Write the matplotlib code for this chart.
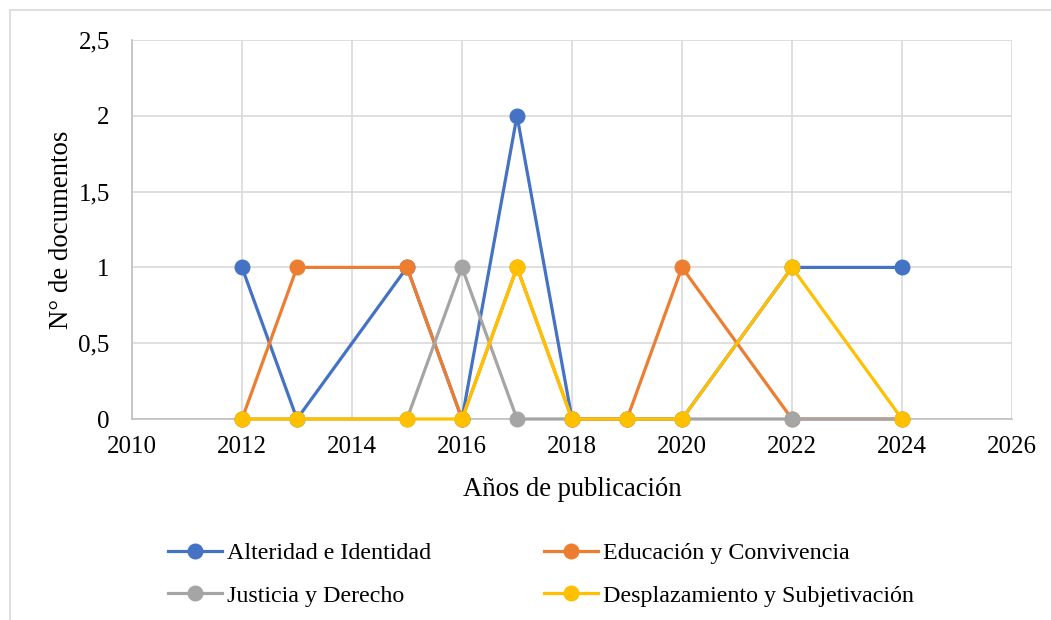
import matplotlib.pyplot as plt
from matplotlib.patches import Rectangle
from matplotlib.ticker import FuncFormatter

plt.rcParams['font.family'] = ['Liberation Serif', 'DejaVu Serif']

years = [2012, 2013, 2015, 2016, 2017, 2018, 2019, 2020, 2022, 2024]
alteridad = [1, 0, 1, 0, 2, 0, 0, 0, 1, 1]
educacion = [0, 1, 1, 0, 1, 0, 0, 1, 0, 0]
justicia = [0, 0, 0, 1, 0, 0, 0, 0, 0, 0]
desplazamiento = [0, 0, 0, 0, 1, 0, 0, 0, 1, 0]

series = [
    ("Alteridad e Identidad", alteridad, "#4472C4"),
    ("Educación y Convivencia", educacion, "#ED7D31"),
    ("Justicia y Derecho", justicia, "#A5A5A5"),
    ("Desplazamiento y Subjetivación", desplazamiento, "#FFC000"),
]

fig = plt.figure(figsize=(10.51, 6.2), dpi=100)
fig.patches.append(Rectangle((10 / 1051, -0.1), 1.2, 1.1 - 10 / 620,
                             transform=fig.transFigure, fill=False,
                             edgecolor="#D9D9D9", linewidth=1.2))

ax = fig.add_axes([132 / 1051, 1 - 419 / 620, 880 / 1051, 379 / 620])
handles = []
for name, vals, color in series:
    h, = ax.plot(years, vals, color=color, linewidth=2.3, marker='o',
                 markersize=10.5, label=name, clip_on=False, zorder=3)
    handles.append(h)

ax.set_xlim(2010, 2026)
ax.set_ylim(0, 2.5)
ax.set_xticks(range(2010, 2027, 2))
ax.set_yticks([0, 0.5, 1, 1.5, 2, 2.5])
ax.yaxis.set_major_formatter(FuncFormatter(lambda v, p: f"{v:g}".replace('.', ',')))
ax.grid(True, color="#D9D9D9", linewidth=1.2, zorder=0)
for s in ["top", "right"]:
    ax.spines[s].set_visible(False)
for s in ["left", "bottom"]:
    ax.spines[s].set_color("#BFBFBF")
    ax.spines[s].set_linewidth(1.2)
ax.tick_params(length=0, labelsize=18, pad=12)
ax.tick_params(axis='y', pad=16)
ax.set_xlabel("Años de publicación", fontsize=19.2, labelpad=14)
ax.set_ylabel("N° de documentos", fontsize=19.4, labelpad=3)

# row order like Excel: fill rows, matplotlib fills columns
order = [0, 2, 1, 3]
fig.legend(handles=[handles[i] for i in order], loc='center',
           bbox_to_anchor=(541 / 1051, 1 - 574.5 / 620),
           ncol=2, frameon=False, fontsize=17.3, handlelength=2.25,
           handletextpad=0.2, columnspacing=4.7, labelspacing=0.85,
           borderpad=0)

fig.savefig("out.png", dpi=100)
